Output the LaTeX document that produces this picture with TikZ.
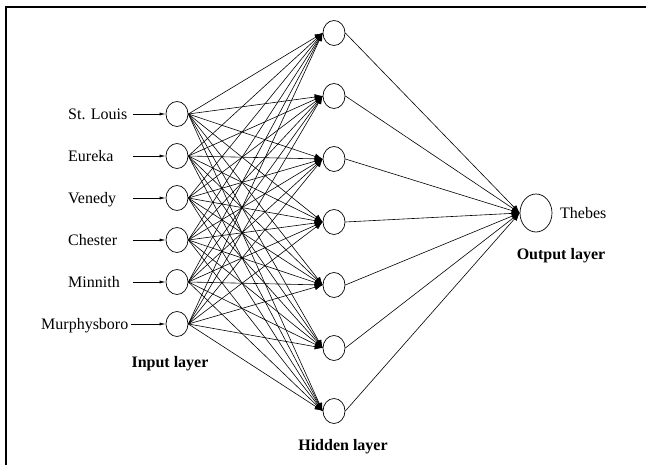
\documentclass[tikz,border=0pt]{standalone}
\usepackage{fontspec}
\setmainfont{Liberation Serif}
\usepackage{tikz}
\usetikzlibrary{arrows.meta, positioning, shapes.geometric}

\begin{document}
\begin{tikzpicture}[
  x=1pt, y=-1pt,
  neuron/.style={ellipse, draw, line width=0.7pt, inner sep=0pt, minimum width=22pt, minimum height=25pt},
  bigneuron/.style={ellipse, draw, line width=0.7pt, inner sep=0pt, minimum width=32pt, minimum height=38pt},
  city/.style={font=\fontsize{16}{18}\selectfont, inner sep=0pt},
  layer/.style={font=\fontsize{16}{18}\selectfont\bfseries, inner sep=0pt},
  feed/.style={-{Latex[length=6pt, width=3pt]}, line width=0.6pt},
  link/.style={-{Latex[length=8pt, width=6pt]}, line width=0.6pt}
]
\useasboundingbox (0,0) rectangle (646,465);
\draw[line width=1.5pt] (6,465) -- (6,7) -- (646,7);

% input layer
\node[neuron] (in1) at (177,114) {};
\node[neuron] (in2) at (177,156) {};
\node[neuron] (in3) at (177,198) {};
\node[neuron] (in4) at (177,240) {};
\node[neuron] (in5) at (177,282) {};
\node[neuron] (in6) at (177,324) {};

\node[city, anchor=base west] (stlouis) at (68,120) {St. Louis};
\node[city, anchor=base west] (eureka) at (68,162) {Eureka};
\node[city, anchor=base west] (venedy) at (68,204) {Venedy};
\node[city, anchor=base west] (chester) at (68,246) {Chester};
\node[city, anchor=base west] (minnith) at (68,288) {Minnith};
\node[city, anchor=base west] (murphys) at (41,330) {Murphysboro};

\coordinate (src1) at (133,114);
\coordinate (src2) at (133,156);
\coordinate (src3) at (133,198);
\coordinate (src4) at (133,240);
\coordinate (src5) at (133,282);
\coordinate (src6) at (131,324);
\foreach \i in {1,...,6}
  \draw[feed] (src\i) -- (in\i);

\node[layer, anchor=base] (inlabel) at (170,368) {Input layer};

% hidden layer
\node[neuron] (hid1) at (334,33) {};
\node[neuron] (hid2) at (334,96) {};
\node[neuron] (hid3) at (334,159) {};
\node[neuron] (hid4) at (334,222) {};
\node[neuron] (hid5) at (334,285) {};
\node[neuron] (hid6) at (334,348) {};
\node[neuron] (hid7) at (334,411) {};
\node[layer, anchor=base] (hidlabel) at (343,450) {Hidden layer};

% output layer
\node[bigneuron] (out) at (536,213) {};
\node[city, anchor=base west] (thebes) at (560,219) {Thebes};
\node[layer, anchor=base] (outlabel) at (561,260) {Output layer};

\foreach \i in {1,...,6}
  \foreach \j in {1,...,7}
    \draw[link] (in\i.east) -- (hid\j.west);
\foreach \j in {1,...,7}
  \draw[link] (hid\j.east) -- (out.west);
\end{tikzpicture}
\end{document}
